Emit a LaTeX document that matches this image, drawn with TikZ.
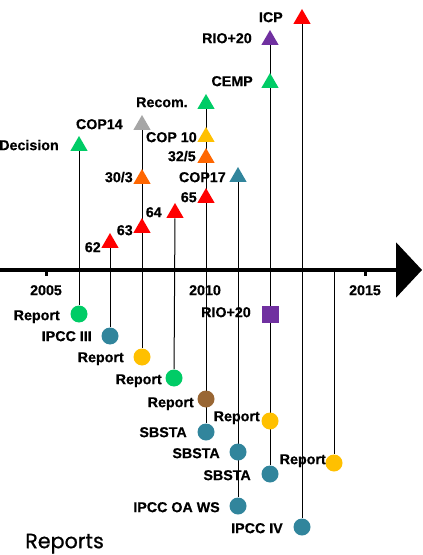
\documentclass[tikz,border=0pt]{standalone}
\usepackage{fontspec}
\setmainfont{Liberation Sans}[BoldFeatures={FakeBold=0.5}]
\newfontfamily\headfont{Poppins}[FakeBold=0.8]
\usetikzlibrary{shapes.geometric,backgrounds,arrows.meta}
\definecolor{evgreen}{RGB}{0,204,102}
\definecolor{evred}{RGB}{255,0,0}
\definecolor{evgrey}{RGB}{166,166,166}
\definecolor{evorange}{RGB}{255,102,0}
\definecolor{evyellow}{RGB}{255,192,0}
\definecolor{evteal}{RGB}{49,133,156}
\definecolor{evpurple}{RGB}{112,48,160}
\definecolor{evbrown}{RGB}{153,102,51}
\begin{document}
\begin{tikzpicture}[
x=0.75pt,y=-0.75pt,
tri/.style={regular polygon,regular polygon sides=3,minimum size=15pt,inner sep=0pt,fill=#1},
dot/.style={circle,minimum size=12.75pt,inner sep=0pt,fill=#1},
box/.style={rectangle,minimum size=12.75pt,inner sep=0pt,fill=#1},
lab/.style={anchor=east,inner sep=0pt,font=\bfseries\fontsize{10.7}{12}\selectfont,text height=7.7pt,text depth=0pt},
yr/.style={lab,anchor=center},
col/.style={black,line width=0.75pt}
]
\useasboundingbox (0,0) rectangle (422,555);
% time axis
\coordinate (axl) at (0,270);
\coordinate (axr) at (422,270);
\draw[line width=3pt,-{Triangle[length=19.5pt,width=41pt]}] (axl) -- (axr);
\draw[line width=2.25pt] (46,271) -- (46,276);
\draw[line width=2.25pt] (365,271) -- (365,276);
\node[yr] (y05) at (46,290) {2005};
\node[yr] (y10) at (205,290) {2010};
\node[yr] (y15) at (365,290) {2015};
% above the axis
\node[tri=evgreen] (t06a) at (79,146) {};
\node[lab] (l06a) at (59,145) {Decision};
\node[tri=evred] (t07a) at (110,243) {};
\node[lab] (l07a) at (101,247) {62};
\node[tri=evgrey] (t08a) at (142,125) {};
\node[lab] (l08a) at (123,124) {COP14};
\node[tri=evorange] (t08b) at (142,179) {};
\node[lab] (l08b) at (133,177) {30/3};
\node[tri=evred] (t08c) at (142,228) {};
\node[lab] (l08c) at (133,230) {63};
\node[tri=evred] (t09a) at (175,213) {};
\node[lab] (l09a) at (162,212) {64};
\node[tri=evgreen] (t10a) at (206,104) {};
\node[lab] (l10a) at (188,102) {Recom.};
\node[tri=evyellow] (t10b) at (206,137) {};
\node[lab] (l10b) at (197,137) {COP 10};
\node[tri=evorange] (t10c) at (206,158) {};
\node[lab] (l10c) at (196,156) {32/5};
\node[tri=evred] (t10d) at (206,198) {};
\node[lab] (l10d) at (197,197) {65};
\node[tri=evteal] (t11a) at (238,177) {};
\node[lab] (l11a) at (226,177) {COP17};
\node[tri=evpurple] (t12a) at (270,40) {};
\node[lab] (l12a) at (252,38) {RIO+20};
\node[tri=evgreen] (t12b) at (270,83) {};
\node[lab] (l12b) at (253,81) {CEMP};
\node[tri=evred] (t13a) at (302,19) {};
\node[lab] (l13a) at (283,17) {ICP};
% below the axis
\node[dot=evgreen] (c06a) at (79,314) {};
\node[lab] (m06a) at (60,315) {Report};
\node[dot=evteal] (c07a) at (110,336) {};
\node[lab] (m07a) at (92,336) {IPCC III};
\node[dot=evyellow] (c08a) at (142,357) {};
\node[lab] (m08a) at (124,357) {Report};
\node[dot=evgreen] (c09a) at (174,378) {};
\node[lab] (m09a) at (162,379) {Report};
\node[dot=evbrown] (c10a) at (206,399) {};
\node[lab] (m10a) at (194,402) {Report};
\node[dot=evteal] (c10b) at (206,432) {};
\node[lab] (m10b) at (187,432) {SBSTA};
\node[dot=evteal] (c11a) at (238,452) {};
\node[lab] (m11a) at (220,453) {SBSTA};
\node[dot=evteal] (c11b) at (238,506) {};
\node[lab] (m11b) at (220,507) {IPCC OA WS};
\node[box=evpurple] (s12a) at (270,314) {};
\node[lab] (m12s) at (251,312) {RIO+20};
\node[dot=evyellow] (c12a) at (270,421) {};
\node[lab] (m12a) at (260,416) {Report};
\node[dot=evteal] (c12b) at (270,474) {};
\node[lab] (m12b) at (251,475) {SBSTA};
\node[dot=evteal] (c13a) at (302,527) {};
\node[lab] (m13a) at (283,528) {IPCC IV};
\coordinate (a14) at (334,270);
\node[dot=evyellow] (c14a) at (334,463) {};
\node[lab] (m14a) at (326,459) {Report};
\node[anchor=west,inner sep=0pt,font=\headfont\fontsize{15.5}{18}\selectfont,text height=10.8pt,text depth=0pt] (rep) at (25,541) {Reports};
\begin{scope}[on background layer]
\draw[col] (t06a) -- (c06a);
\draw[col] (t07a) -- (c07a);
\draw[col] (t08a) -- (c08a);
\draw[col] (t09a) -- (c09a);
\draw[col] (t10a) -- (c10b);
\draw[col] (t11a) -- (c11b);
\draw[col] (t12a) -- (c12b);
\draw[col] (t13a) -- (c13a);
\draw[col] (a14) -- (c14a);
\end{scope}
\end{tikzpicture}
\end{document}
